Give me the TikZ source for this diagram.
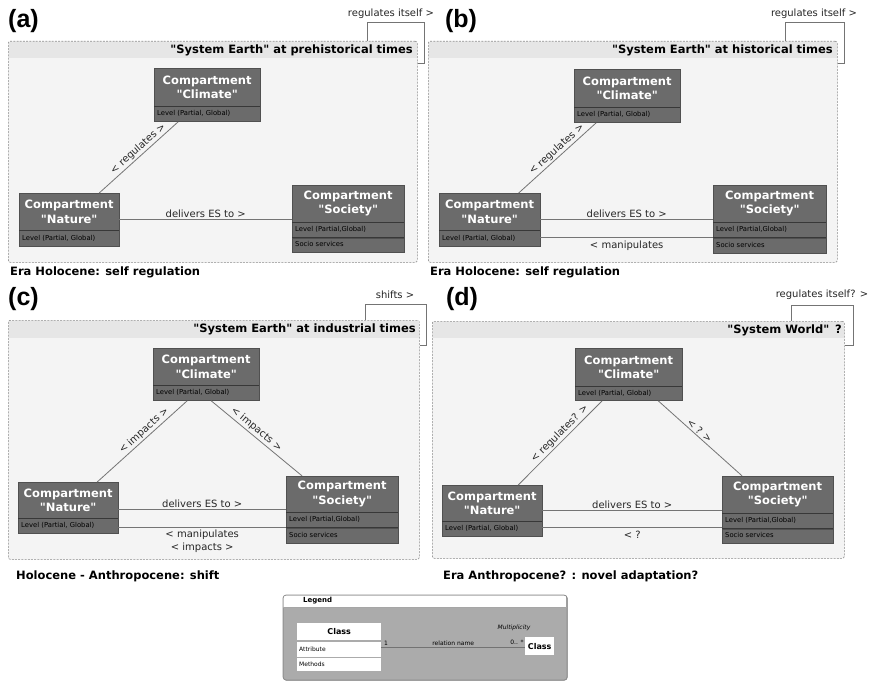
\documentclass[tikz,border=0pt]{standalone}
\usepackage{fontspec}
\setmainfont{DejaVu Sans}[Ligatures=TeXOff]
\newfontfamily\panelfont{Liberation Sans}
\usetikzlibrary{calc}

\definecolor{boxfill}{HTML}{6B6B6B}
\definecolor{boxedge}{HTML}{505050}
\definecolor{sepline}{HTML}{383838}
\definecolor{wire}{HTML}{747474}
\definecolor{framebg}{HTML}{F4F4F4}
\definecolor{frameedge}{HTML}{8A8A8A}
\definecolor{bandbg}{HTML}{E6E6E6}
\definecolor{leggray}{HTML}{ABABAB}

\newcommand\hdrf{\fontsize{11.5}{14.5}\selectfont\bfseries}
\newcommand\rowf{\fontsize{6.8}{8}\selectfont}
\newcommand\lblf{\fontsize{10}{13}\selectfont}
\newcommand\ttlf{\fontsize{11.5}{14}\selectfont\bfseries}
\newcommand\pnlf{\panelfont\fontsize{25}{28}\selectfont\bfseries}
\newcommand\legf{\fontsize{6}{7}\selectfont}

% compartment header: name, x, y, width, height, text
\newcommand\comp[6]{%
  \node[hdr, minimum width=#4pt, minimum height=#5pt] (#1) at (#2,#3) {#6};}
% compartment row below a node: name, node above, width, height, text
\newcommand\crow[5]{%
  \node[row, text width={#3pt-6pt}, minimum height=#4pt] (#1) at (#2.south west) {#5};
  \draw[sep] (#2.south west) -- (#2.south east);}

\begin{document}
\begin{tikzpicture}[x=1pt,y=-1pt,
  hdr/.style={draw=boxedge, fill=boxfill, text=white, font=\hdrf, align=center,
    inner sep=0pt, anchor=north west},
  row/.style={draw=boxedge, fill=boxfill, text=black, font=\rowf, align=left,
    inner xsep=3pt, inner ysep=0pt, text height=5pt, text depth=1.5pt, anchor=north west},
  sep/.style={draw=sepline, line width=1.1pt},
  wire/.style={draw=wire, line width=0.8pt},
  elbl/.style={font=\lblf, inner sep=1.5pt, text=black!85},
  frame/.style={draw=frameedge, fill=framebg, line width=0.6pt, rounded corners=2pt,
    dash pattern=on 2pt off 1.2pt, anchor=north west, inner sep=0pt},
  band/.style={fill=bandbg},
  ttl/.style={font=\ttlf, inner sep=0pt},
  capt/.style={font=\ttlf, inner sep=0pt, anchor=west},
  pnl/.style={font=\pnlf, inner sep=0pt},
  lbox/.style={fill=white, inner sep=0pt, anchor=north west},
]
\useasboundingbox (0,0) rectangle (876,682);
\fill[white] (0,0) rectangle (876,682);

% ---------------- (a) prehistorical times ----------------
\node[pnl] (pa) at (23.5,21.5) {(a)};
\node[frame, minimum width=409pt, minimum height=221pt] (fa) at (8,41) {};
\fill[band] ([xshift=0.8pt,yshift=-0.8pt]fa.north west) rectangle ([xshift=-0.8pt,yshift=-17pt]fa.north east);
\node[ttl, anchor=east] (ta) at (413,50) {"System Earth" at prehistorical times};
\coordinate (la) at ([xshift=-50pt]fa.north east);
\draw[wire] (la) -- ++(0,-19) -| ([xshift=7pt,yshift=-22pt]fa.north east) -- ([yshift=-22pt]fa.north east);
\node[elbl] (lla) at (391,14) {regulates itself >};

\comp{acl}{154}{68}{106}{38}{Compartment\\"Climate"}
\crow{aclr}{acl}{106}{15}{Level (Partial, Global)}
\comp{ana}{19}{193}{100}{37}{Compartment\\"Nature"}
\crow{anar}{ana}{100}{16}{Level (Partial, Global)}
\comp{aso}{292}{185}{112}{37}{Compartment\\"Society"}
\crow{asor}{aso}{112}{15}{Level (Partial,Global)}
\crow{asos}{asor}{112}{14}{Socio services}

\draw[wire] ([xshift=30pt]ana.north) -- node[elbl, sloped, above, pos=0.55] {< regulates >} ([xshift=-29pt]aclr.south);
\coordinate (ad) at ([yshift=-7.5pt]ana.east);
\draw[wire] (ad) -- node[elbl, above] {delivers ES to >} (ad -| aso.west);
\node[capt] (ca) at (10,272) {Era Holocene: self regulation};

% ---------------- (b) historical times ----------------
\node[pnl] (pb) at (461,21.5) {(b)};
\begin{scope}[shift={(420,0)}]
\node[frame, minimum width=409pt, minimum height=221pt] (fb) at (8,41) {};
\fill[band] ([xshift=0.8pt,yshift=-0.8pt]fb.north west) rectangle ([xshift=-0.8pt,yshift=-17pt]fb.north east);
\node[ttl, anchor=east] (tb) at (413,50) {"System Earth" at historical times};
\coordinate (lb) at ([xshift=-52pt]fb.north east);
\draw[wire] (lb) -- ++(0,-19) -| ([xshift=7pt,yshift=-22pt]fb.north east) -- ([yshift=-22pt]fb.north east);
\node[elbl] (llb) at (394,14) {regulates itself >};

\comp{bcl}{154}{69}{106}{38}{Compartment\\"Climate"}
\crow{bclr}{bcl}{106}{15}{Level (Partial, Global)}
\comp{bna}{19}{193}{101}{37}{Compartment\\"Nature"}
\crow{bnar}{bna}{101}{16}{Level (Partial, Global)}
\comp{bso}{293}{185}{113}{37}{Compartment\\"Society"}
\crow{bsor}{bso}{113}{15}{Level (Partial,Global)}
\crow{bsos}{bsor}{113}{15}{Socio services}

\draw[wire] ([xshift=29pt]bna.north) -- node[elbl, sloped, above, pos=0.55] {< regulates >} ([xshift=-31pt]bclr.south);
\coordinate (bd) at ([yshift=-7.5pt]bna.east);
\draw[wire] (bd) -- node[elbl, above] {delivers ES to >} (bd -| bso.west);
\coordinate (bm) at ([yshift=1pt]bnar.east);
\draw[wire] (bm) -- node[elbl, below=1.5pt] {< manipulates} (bm -| bso.west);
\node[capt] (cb) at (10,272) {Era Holocene: self regulation};
\end{scope}

% ---------------- (c) industrial times ----------------
\node[pnl] (pc) at (23.5,299) {(c)};
\node[frame, minimum width=411pt, minimum height=239pt] (fc) at (8,320) {};
\fill[band] ([xshift=0.8pt,yshift=-0.8pt]fc.north west) rectangle ([xshift=-0.8pt,yshift=-18pt]fc.north east);
\node[ttl, anchor=east] (tc) at (416,329) {"System Earth" at industrial times};
\coordinate (lc) at ([xshift=-54pt]fc.north east);
\draw[wire] (lc) -- ++(0,-16) -| ([xshift=7pt,yshift=-25pt]fc.north east) -- ([yshift=-25pt]fc.north east);
\node[elbl] (llc) at (395,295) {shifts >};

\comp{ccl}{153}{348}{106}{37}{Compartment\\"Climate"}
\crow{cclr}{ccl}{106}{15}{Level (Partial, Global)}
\comp{cna}{18}{482}{100}{36}{Compartment\\"Nature"}
\crow{cnar}{cna}{100}{15}{Level (Partial, Global)}
\comp{cso}{286}{476}{112}{36}{Compartment\\"Society"}
\crow{csor}{cso}{112}{15}{Level (Partial,Global)}
\crow{csos}{csor}{112}{15}{Socio services}

\draw[wire] ([xshift=29pt]cna.north) -- node[elbl, sloped, above, pos=0.57] {< impacts >} ([xshift=-19pt]cclr.south);
\draw[wire] ([xshift=5pt]cclr.south) -- node[elbl, sloped, above, pos=0.45] {< impacts >} ([xshift=-40pt]cso.north);
\coordinate (cd) at ([yshift=-9pt]cna.east);
\draw[wire] (cd) -- node[elbl, above] {delivers ES to >} (cd -| cso.west);
\coordinate (cm) at ([yshift=-1.5pt]cnar.east);
\draw[wire] (cm) -- node[elbl, below=0.5pt, align=center] {< manipulates\\< impacts >} (cm -| cso.west);
\node[capt] (cc) at (16,576) {Holocene - Anthropocene: shift};

% ---------------- (d) System World ----------------
\node[pnl] (pd) at (462,299) {(d)};
\node[frame, minimum width=412pt, minimum height=237pt] (fd) at (432,321) {};
\fill[band] ([xshift=0.8pt,yshift=-0.8pt]fd.north west) rectangle ([xshift=-0.8pt,yshift=-17pt]fd.north east);
\node[ttl, anchor=east] (td) at (842,330) {"System World"\hspace{0.5em}?};
\coordinate (ld) at ([xshift=-53pt]fd.north east);
\draw[wire] (ld) -- ++(0,-16) -| ([xshift=9pt,yshift=-24pt]fd.north east) -- ([yshift=-24pt]fd.north east);
\node[elbl] (lld) at (822,295) {regulates itself? >};

\comp{dcl}{575}{348}{107}{38}{Compartment\\"Climate"}
\crow{dclr}{dcl}{107}{14}{Level (Partial, Global)}
\comp{dna}{442}{485}{100}{36}{Compartment\\"Nature"}
\crow{dnar}{dna}{100}{15}{Level (Partial, Global)}
\comp{dso}{722}{476}{111}{37}{Compartment\\"Society"}
\crow{dsor}{dso}{111}{15}{Level (Partial,Global)}
\crow{dsos}{dsor}{111}{14}{Socio services}

\draw[wire] ([xshift=26pt]dna.north) -- node[elbl, sloped, above, pos=0.55] {< regulates? >} ([xshift=-26.5pt]dclr.south);
\draw[wire] ([xshift=29.5pt]dclr.south) -- node[elbl, sloped, above, pos=0.45] {< ? >} ([xshift=-35.5pt]dso.north);
\coordinate (dd) at ([yshift=-7pt]dna.east);
\draw[wire] (dd) -- node[elbl, above] {delivers ES to >} (dd -| dso.west);
\coordinate (dm) at ([yshift=1.5pt]dnar.east);
\draw[wire] (dm) -- node[elbl, below=1.5pt] {< ?} (dm -| dso.west);
\node[capt] (cd) at (443,576) {Era Anthropocene? : novel adaptation?};

% ---------------- legend ----------------
\node[draw=black!45, fill=leggray, rounded corners=3pt, minimum width=284pt, minimum height=85pt,
  anchor=north west, inner sep=0pt, line width=0.6pt] (leg) at (283,595) {};
\begin{scope}
  \clip[rounded corners=3pt] (283.4,595.4) rectangle (566.6,679.6);
  \fill[white] (283,595) rectangle (567,607);
\end{scope}
\draw[black!45, line width=0.6pt, rounded corners=3pt] (283,595) rectangle (567,680);
\draw[black!35, line width=0.5pt] (283.3,607) -- (566.7,607);
\node[font=\fontsize{7}{8}\selectfont\bfseries, anchor=west, inner sep=0pt] (legt) at (303,601) {Legend};

\node[lbox, minimum width=84pt, minimum height=17pt, font=\fontsize{8}{9}\selectfont\bfseries] (lc1) at (297,623) {Class};
\node[lbox, minimum width=84pt, minimum height=15.5pt, text width=80pt, inner xsep=2pt, align=left, font=\legf] (lc1a) at (297,641.5) {Attribute};
\node[lbox, minimum width=84pt, minimum height=13pt, text width=80pt, inner xsep=2pt, align=left, font=\legf] (lc1m) at (297,658) {Methods};
\node[lbox, minimum width=29pt, minimum height=18pt, font=\fontsize{8}{9}\selectfont\bfseries] (lc2) at (525,637) {Class};
\coordinate (lr) at ([yshift=2pt]lc1a.east);
\draw[draw=black!55, line width=0.7pt] (lr) -- node[font=\legf, above=1pt, inner sep=0.5pt] {relation name} (lr -| lc2.west);
\node[font=\legf, anchor=south west, inner sep=0.5pt] (lone) at ([xshift=2pt,yshift=1pt]lr) {1};
\node[font=\legf, anchor=south, inner sep=0.5pt] (lmul) at (517,645.5) {0.. *};
\node[font=\legf\itshape, inner sep=0pt] (lmt) at (514,628) {Multiplicity};
\end{tikzpicture}
\end{document}
